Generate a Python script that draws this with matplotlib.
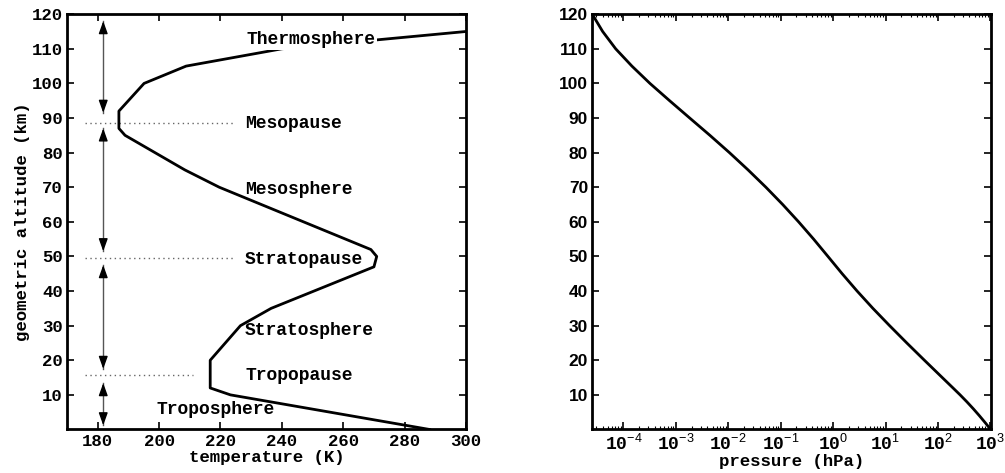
import matplotlib
matplotlib.use("Agg")
import matplotlib.pyplot as plt
import numpy as np

# ---- data ----
temp_alt = [0, 10, 12, 20, 30, 35, 47, 50, 52, 70, 75, 85, 87, 92, 100, 105, 110, 115, 120]
temp_K = [288.15, 223.25, 216.65, 216.65, 226.5, 236.5, 270.0, 270.9, 269.0, 219.6,
          208.4, 188.9, 186.9, 186.9, 195.1, 208.8, 240.0, 300.0, 360.0]

pres_alt = [0, 2, 4, 6, 8, 10, 12, 14, 16, 18, 20, 25, 30, 35, 40, 45, 50, 55, 60, 65,
            70, 75, 80, 85, 90, 95, 100, 105, 110, 115, 120]
pres_hPa = [1013.25, 795.01, 616.60, 472.17, 356.51, 264.99, 193.99, 141.70, 103.52,
            75.65, 55.29, 25.49, 11.97, 5.746, 2.871, 1.491,
            0.7978, 0.4253, 0.2196, 0.1093, 0.05221, 0.02388, 0.01052, 0.004457,
            0.001836, 0.000760, 0.0003201, 0.0001450, 7.104e-5, 4.010e-5, 2.538e-5]

layer_names = ["Thermosphere", "Mesopause", "Mesosphere", "Stratopause",
               "Stratosphere", "Tropopause", "Troposphere"]
layer_label_T = [228.4, 228.0, 228.0, 228.0, 228.0, 228.0, 199.2]
layer_label_z = [112.6, 88.5, 69.4, 49.2, 28.5, 15.6, 5.9]
layer_label_bg = [True, False, False, False, False, False, False]

pause_z = [88.7, 49.5, 15.6]
pause_T_end = [224.2, 224.2, 211.1]
pause_T_start = 175.9

arrow_T = 181.8
arrow_ranges = [(91.5, 118.0), (51.5, 87.0), (17.5, 47.5), (1.2, 13.4)]

temp_ticks = [180, 200, 220, 240, 260, 280, 300]
alt_ticks = [10, 20, 30, 40, 50, 60, 70, 80, 90, 100, 110, 120]
pres_exps = [-4, -3, -2, -1, 0, 1, 2, 3]

# ---- style ----
MONO = "Liberation Mono"
SANS = "Liberation Sans"
plt.rcParams["mathtext.fontset"] = "custom"
plt.rcParams["mathtext.tt"] = "Liberation Mono:bold"
plt.rcParams["mathtext.sf"] = "Liberation Sans"
plt.rcParams["mathtext.rm"] = "Liberation Sans"

fig = plt.figure(figsize=(10.05, 4.73), dpi=100)
axL = fig.add_axes([0.0667, 0.092, 0.397, 0.878])
axR = fig.add_axes([0.5893, 0.092, 0.3964, 0.878])

for ax in (axL, axR):
    for s in ax.spines.values():
        s.set_linewidth(2.0)
    ax.tick_params(which="both", direction="in", top=True, right=True, width=1.2)
    ax.tick_params(which="major", length=5, pad=3)
    ax.tick_params(which="minor", length=2.5, width=0.8)

# ---- left panel ----
axL.plot(temp_K, temp_alt, color="black", lw=2.0, zorder=3)
axL.set_xlim(170, 300)
axL.set_ylim(0, 120)
axL.set_xticks(temp_ticks)
axL.set_yticks(alt_ticks)
for lab in axL.get_xticklabels() + axL.get_yticklabels():
    lab.set_fontfamily(MONO)
    lab.set_fontweight("bold")
    lab.set_fontsize(12.5)
axL.set_xlabel("temperature (K)", fontfamily=MONO, fontweight="bold", fontsize=12.5, labelpad=1)
axL.set_ylabel("geometric altitude (km)", fontfamily=MONO, fontweight="bold", fontsize=12.5, labelpad=1)

for z, te in zip(pause_z, pause_T_end):
    axL.plot([pause_T_start, te], [z, z], color="#666666", lw=1.0, ls=(0, (1, 2.5)), zorder=2)

for lo, hi in arrow_ranges:
    axL.plot([arrow_T, arrow_T], [lo, hi], color="#555555", lw=1.0, zorder=2)
    for tip, tail in ((hi, hi - 3), (lo, lo + 3)):
        axL.annotate("", xy=(arrow_T, tip), xytext=(arrow_T, tail),
                     arrowprops=dict(arrowstyle="-|>,head_length=0.75,head_width=0.27",
                                     color="black", lw=1.0, shrinkA=0, shrinkB=0),
                     zorder=4)

for name, tx, tz, bg in zip(layer_names, layer_label_T, layer_label_z, layer_label_bg):
    kw = {}
    if bg:
        kw["bbox"] = dict(facecolor="white", edgecolor="none", pad=1.5)
    axL.text(tx, tz, name, fontfamily=MONO, fontweight="bold", fontsize=13,
             ha="left", va="center", zorder=5, **kw)

# ---- right panel ----
axR.plot(pres_hPa, pres_alt, color="black", lw=2.0)
axR.set_xscale("log")
axR.set_xlim(min(pres_hPa), max(pres_hPa))
axR.set_ylim(0, 120)
axR.set_xticks([10.0 ** e for e in pres_exps])
axR.set_xticklabels([r"$\mathtt{10}^{\mathsf{%d}}$" % e for e in pres_exps])
axR.set_yticks(alt_ticks)
for lab in axR.get_xticklabels():
    lab.set_fontsize(13)
for lab in axR.get_yticklabels():
    lab.set_fontfamily(SANS)
    lab.set_fontweight("bold")
    lab.set_fontsize(12.5)
axR.set_xlabel("pressure (hPa)", fontfamily=MONO, fontweight="bold", fontsize=12.5, labelpad=0)

fig.savefig("out.png", dpi=100)
